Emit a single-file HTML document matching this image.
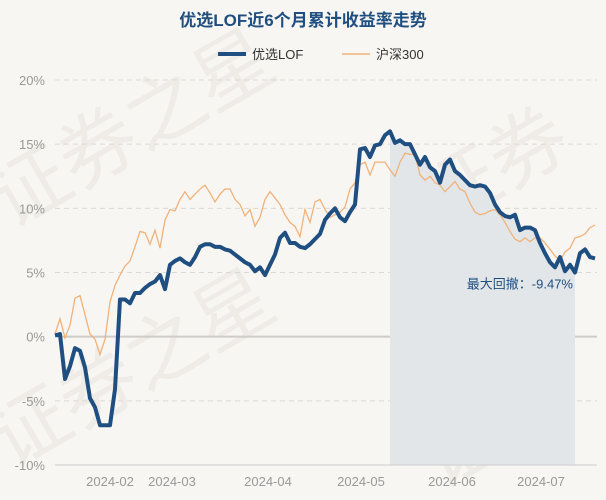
<!DOCTYPE html>
<html><head><meta charset="utf-8"><style>
body{margin:0;background:#f8f6f2;}
svg{display:block;font-family:"Liberation Sans","Noto Sans CJK SC",sans-serif;}
</style></head><body>
<svg id="c" width="606" height="500">
<rect width="606" height="500" fill="#f8f6f2"/>
<g id="wm" fill="#efece8" font-size="78" font-family="Noto Sans CJK SC, sans-serif">
<text x="10" y="230" transform="rotate(-30 10 230)">证券之星</text>
<text x="10" y="470" transform="rotate(-30 10 470)">证券之星</text>
<text x="440" y="230" transform="rotate(-30 440 230)">证券</text>
<text x="440" y="490" transform="rotate(-30 440 490)">证券</text>
</g>
<text x="303" y="26" text-anchor="middle" font-size="17" font-weight="bold" fill="#1f4e80">优选LOF近6个月累计收益率走势</text>
<g>
<g><line x1="218" y1="54" x2="246" y2="54" stroke="#1f4e80" stroke-width="4"/><text x="252" y="59" font-size="13" fill="#333">优选LOF</text></g>
<g><line x1="342" y1="54" x2="370" y2="54" stroke="#f0b27a" stroke-width="1.5"/><text x="376" y="59" font-size="13" fill="#333">沪深300</text></g>
</g>
<g id="grid"></g><g id="area"></g><g id="lines"></g><g id="axes"></g>
</svg>
<script>
const yTicks=[20,15,10,5,0,-5,-10];
const xTickLabels=["2024-02","2024-03","2024-04","2024-05","2024-06","2024-07"];
const xTickIdx=[11,23.4,42.6,61.2,79.4,97.2];
const fund=[0.1,0.2,-3.3,-2.3,-0.9,-1.1,-2.4,-4.8,-5.5,-6.9,-6.9,-6.9,-4.1,2.9,2.9,2.6,3.4,3.4,3.8,4.1,4.3,4.8,3.7,5.6,5.9,6.1,5.8,5.6,6.2,7.0,7.2,7.2,7.0,7.0,6.8,6.7,6.4,6.1,5.8,5.6,5.1,5.4,4.8,5.6,6.4,7.7,8.1,7.3,7.3,7.0,6.9,7.2,7.6,8.0,9.1,9.6,10.0,9.3,9.0,9.7,10.3,14.6,14.7,14.0,14.9,15.0,15.7,16.0,15.1,15.3,15.0,15.0,14.2,13.4,14.0,13.2,12.9,12.0,13.4,13.8,12.9,12.6,12.2,11.8,11.7,11.8,11.7,11.2,10.3,9.7,9.4,9.3,9.5,8.3,8.5,8.5,8.3,7.3,6.5,5.8,5.4,6.2,5.1,5.6,5.0,6.5,6.8,6.2,6.1];
const hs300=[0.2,1.4,-0.1,0.9,3.0,3.2,1.7,0.2,-0.2,-1.4,-0.2,2.7,4.0,4.8,5.5,5.9,7.0,8.2,8.1,7.2,8.3,6.9,9.1,9.9,9.8,10.7,11.3,10.7,11.1,11.5,11.8,11.2,10.5,11.1,11.5,11.5,10.7,10.3,9.4,9.9,8.6,9.3,10.7,11.3,10.8,10.3,9.5,8.9,8.6,7.8,9.9,8.9,10.5,10.7,9.9,9.3,9.5,9.7,10.1,11.5,12.0,13.4,13.6,12.6,13.6,13.6,13.6,13.0,12.5,13.6,14.3,14.2,14.2,12.6,12.2,12.5,12.0,11.8,11.3,11.7,12.1,11.5,11.3,10.4,9.7,9.5,9.6,9.8,9.9,9.5,8.9,8.2,7.6,7.4,7.7,7.4,7.7,7.7,7.3,6.8,6.3,5.9,6.6,6.9,7.7,7.8,8.0,8.5,8.7];
const maxDD="最大回撤：-9.47%";
const NS="http://www.w3.org/2000/svg";
const X0=55,X1=597,Ytop=80,Ybot=465;
const N=Math.max(fund.length,hs300.length);
const sx=i=>X0+i*(X1-2-X0)/(N-1);
const sy=v=>Ytop+(20-v)*(Ybot-Ytop)/30;
function mk(t,a,p){const e=document.createElementNS(NS,t);for(const k in a)e.setAttribute(k,a[k]);p.appendChild(e);return e;}
const grid=document.getElementById('grid'),axes=document.getElementById('axes');
yTicks.forEach(v=>{
 const l=mk('line',{x1:X0,x2:X1,y1:sy(v),y2:sy(v),stroke:v===0?'#cfccc8':'#dcd9d4','stroke-width':v===0?2:1,'stroke-dasharray':v===0?'':'5,4'},grid);
 
 
 const t=mk('text',{x:45,y:sy(v)+5,'text-anchor':'end','font-size':13,fill:'#999'},axes);
 t.textContent=v+'%';
 
 
});
const ax=mk('line',{x1:X0,x2:X1,y1:Ybot,y2:Ybot,stroke:'#ccc'},axes);


xTickLabels.forEach((s,k)=>{
 const x=sx(xTickIdx[k]);
 const t=mk('text',{x:x,y:486,'text-anchor':'middle','font-size':13,fill:'#999'},axes);
 t.textContent=s;
 
 
});
let pk=0;for(let i=0;i<fund.length;i++)if(fund[i]>fund[pk])pk=i;
let tr=pk;for(let i=pk;i<fund.length;i++)if(fund[i]<fund[tr])tr=i;
let d='M'+sx(pk)+','+Ybot;for(let i=pk;i<=tr;i++)d+=' L'+sx(i)+','+sy(fund[i]);d+=' L'+sx(tr)+','+Ybot+'Z';
const ar=mk('path',{d:d,fill:'#e2e6e9'},document.getElementById('area'));


const lines=document.getElementById('lines');
const p2=mk('path',{d:hs300.map((v,i)=>(i?'L':'M')+sx(i)+','+sy(v)).join(' '),fill:'none',stroke:'#f0b27a','stroke-width':1.3},lines);


const p1=mk('path',{d:fund.map((v,i)=>(i?'L':'M')+sx(i)+','+sy(v)).join(' '),fill:'none',stroke:'#1f4e80','stroke-width':4,'stroke-linejoin':'round'},lines);


const lb=mk('text',{x:sx(tr)-2,y:sy(fund[tr])+16,'text-anchor':'end','font-size':13,fill:'#1f4e80'},lines);
lb.textContent=maxDD;


</script>
</body></html>
